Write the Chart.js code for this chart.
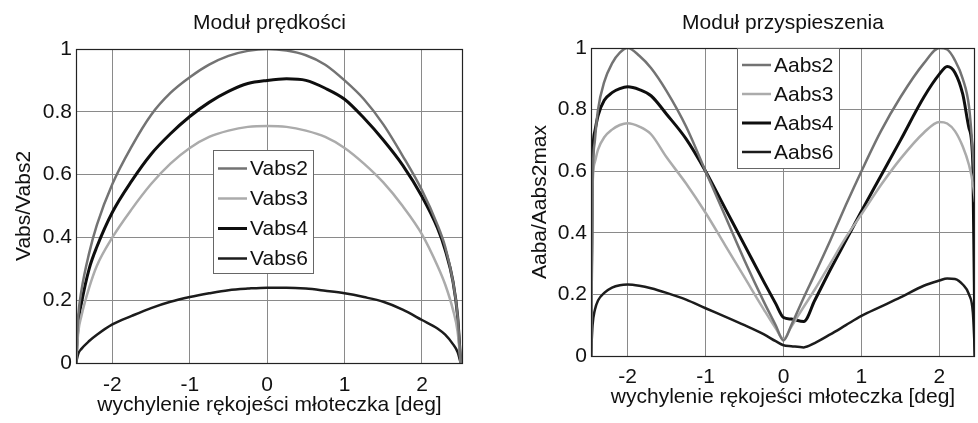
<!DOCTYPE html>
<html>
<head>
<meta charset="utf-8">
<script src="https://cdn.jsdelivr.net/npm/chart.js@4/dist/chart.umd.min.js"></script>
<style>
  html, body { margin: 0; padding: 0; background: #fff; }
  .box { position: absolute; top: 0; height: 423px; }
  #left { left: 0; width: 490px; }
  #right { left: 490px; width: 488px; }
</style>
</head>
<body>
<div class="box" id="left"><canvas id="velChart"></canvas></div>
<div class="box" id="right"><canvas id="accChart"></canvas></div>
<script>
// predkosc (lewy wykres)
const velX = [-2.47, -2.44, -2.4, -2.3, -2.2, -2.0, -1.75, -1.5, -1.25, -1.0, -0.75, -0.5, -0.25, 0,
  0.25, 0.5, 0.75, 1.0, 1.25, 1.5, 1.75, 2.0, 2.2, 2.3, 2.4, 2.46, 2.5];
const vabs2 = [0, 0.15, 0.23, 0.35, 0.44, 0.57, 0.69, 0.79, 0.86, 0.91, 0.95, 0.978, 0.994, 1.0,
  0.995, 0.98, 0.95, 0.9, 0.84, 0.76, 0.66, 0.55, 0.44, 0.37, 0.26, 0.15, 0];
const vabs3 = [0, 0.1, 0.15, 0.24, 0.31, 0.4, 0.49, 0.57, 0.635, 0.685, 0.72, 0.74, 0.752, 0.755,
  0.752, 0.74, 0.72, 0.685, 0.635, 0.575, 0.5, 0.41, 0.31, 0.25, 0.17, 0.1, 0];
const vabs4 = [0, 0.13, 0.19, 0.3, 0.37, 0.48, 0.58, 0.665, 0.73, 0.785, 0.83, 0.865, 0.89, 0.9,
  0.905, 0.9, 0.875, 0.84, 0.78, 0.71, 0.63, 0.53, 0.43, 0.36, 0.26, 0.15, 0];
const vabs6 = [0, 0.03, 0.045, 0.07, 0.09, 0.123, 0.15, 0.175, 0.195, 0.21, 0.222, 0.232, 0.237, 0.24,
  0.24, 0.237, 0.23, 0.222, 0.21, 0.195, 0.17, 0.137, 0.11, 0.09, 0.06, 0.035, 0];

// przyspieszenie (prawy wykres)
const accX = [-2.47, -2.45, -2.42, -2.38, -2.3, -2.2, -2.1, -2.0, -1.85, -1.7, -1.5, -1.25, -1.0,
  -0.75, -0.5, -0.25, -0.1, 0, 0.1, 0.26, 0.4, 0.6, 0.8, 1.0, 1.25, 1.5, 1.8, 2.0,
  2.1, 2.2, 2.3, 2.38, 2.43, 2.457];
const aabs2 = [0, 0.56, 0.7, 0.8, 0.89, 0.95, 0.985, 1.0, 0.975, 0.935, 0.86, 0.745, 0.6,
  0.455, 0.31, 0.175, 0.1, 0.05, 0.1, 0.19, 0.265, 0.375, 0.49, 0.6, 0.73, 0.84, 0.95, 1.0,
  0.995, 0.96, 0.9, 0.81, 0.66, 0.55];
const aabs3 = [0, 0.55, 0.63, 0.67, 0.71, 0.735, 0.75, 0.756, 0.745, 0.72, 0.645, 0.56, 0.465,
  0.36, 0.255, 0.15, 0.09, 0.055, 0.095, 0.16, 0.215, 0.3, 0.385, 0.46, 0.555, 0.64, 0.725, 0.76,
  0.755, 0.73, 0.68, 0.62, 0.56, 0.5];
const aabs4 = [0, 0.63, 0.73, 0.78, 0.83, 0.855, 0.868, 0.874, 0.865, 0.845, 0.785, 0.705, 0.6,
  0.48, 0.36, 0.24, 0.17, 0.125, 0.12, 0.112, 0.18, 0.28, 0.375, 0.47, 0.585, 0.7, 0.84, 0.915,
  0.94, 0.92, 0.85, 0.74, 0.62, 0];
const aabs6 = [0, 0.1, 0.15, 0.18, 0.205, 0.222, 0.23, 0.232, 0.228, 0.22, 0.205, 0.183, 0.155,
  0.128, 0.1, 0.07, 0.048, 0.035, 0.032, 0.028, 0.042, 0.07, 0.1, 0.13, 0.16, 0.19, 0.228, 0.245,
  0.252, 0.25, 0.232, 0.2, 0.14, 0];

const xTicks = [-2, -1, 0, 1, 2];

Chart.defaults.font.family = '"Liberation Sans", Arial, sans-serif';
Chart.defaults.font.size = 21;
Chart.defaults.color = '#111';

const pts = (xs, ys) => xs.map((x, i) => ({ x: x, y: ys[i] }));

function line(label, xs, ys, color, width) {
  return {
    label: label,
    data: pts(xs, ys),
    borderColor: color,
    borderWidth: width,
    pointRadius: 0,
    fill: false,
    cubicInterpolationMode: 'monotone'
  };
}

// ramka wykresu + legenda w srodku
const boxLegend = {
  id: 'boxLegend',
  afterDatasetsDraw(chart, args, o) {
    const ctx = chart.ctx, a = chart.chartArea;
    ctx.save();
    ctx.strokeStyle = '#222';
    ctx.lineWidth = 1.2;
    ctx.strokeRect(a.left + 0.5, a.top + 0.5, a.right - a.left - 1, a.bottom - a.top);

    ctx.fillStyle = '#fff';
    ctx.fillRect(o.x, o.y, o.w, o.h);
    ctx.strokeStyle = '#666';
    ctx.lineWidth = 1;
    ctx.strokeRect(o.x + 0.5, o.y + 0.5, o.w, o.h);
    ctx.font = '21px "Liberation Sans", Arial, sans-serif';
    ctx.textBaseline = 'middle';
    chart.data.datasets.forEach((ds, i) => {
      const yy = o.y + o.first + i * o.step;
      ctx.strokeStyle = ds.borderColor;
      ctx.lineWidth = ds.borderWidth;
      ctx.beginPath();
      ctx.moveTo(o.x + 5, yy);
      ctx.lineTo(o.x + 34, yy);
      ctx.stroke();
      ctx.fillStyle = '#111';
      ctx.fillText(ds.label, o.x + 37, yy + 1);
    });
    ctx.restore();
  }
};

function makeChart(el, cfg) {
  return new Chart(el, {
    type: 'line',
    data: { datasets: cfg.datasets },
    plugins: [boxLegend],
    options: {
      responsive: true,
      maintainAspectRatio: false,
      animation: false,
      layout: { padding: { left: 0, right: cfg.padRight, top: 0, bottom: 0 } },
      plugins: {
        legend: { display: false },
        tooltip: { enabled: false },
        title: {
          display: true,
          text: cfg.title,
          fullSize: false,
          color: '#111',
          font: { size: 21, weight: 'normal' },
          padding: { top: 11, bottom: cfg.titleBottom }
        },
        boxLegend: cfg.legend
      },
      scales: {
        x: {
          type: 'linear',
          min: cfg.xMin,
          max: cfg.xMax,
          afterBuildTicks: s => { s.ticks = xTicks.map(v => ({ value: v })); },
          afterFit: s => { s.height = cfg.xHeight; },
          ticks: { padding: cfg.xTickPad, color: '#111' },
          grid: { color: '#8a8a8a', lineWidth: 1, drawTicks: false },
          border: { display: false },
          title: {
            display: true,
            text: 'wychylenie rękojeści młoteczka [deg]',
            color: '#111',
            padding: { top: 0, bottom: cfg.xTitleBottom }
          }
        },
        y: {
          min: 0,
          max: 1,
          ticks: {
            stepSize: 0.2,
            padding: 4,
            color: '#111',
            callback: v => String(Math.round(v * 10) / 10)
          },
          afterFit: s => { s.width = cfg.yWidth; },
          grid: { color: '#8a8a8a', lineWidth: 1, drawTicks: false },
          border: { display: false },
          title: {
            display: true,
            text: cfg.yTitle,
            color: '#111',
            padding: { top: cfg.yTitleTop, bottom: 0 }
          }
        }
      }
    }
  });
}

makeChart(velChart, {
  title: 'Moduł prędkości',
  yTitle: 'Vabs/Vabs2',
  xMin: -2.47, xMax: 2.53,
  padRight: 27, titleBottom: 12.8,
  xHeight: 60, xTickPad: 10, xTitleBottom: 5,
  yWidth: 76, yTitleTop: 12,
  legend: { x: 213, y: 150, w: 100, h: 123, first: 18.5, step: 30 },
  datasets: [
    line('Vabs2', velX, vabs2, '#737373', 2.5),
    line('Vabs3', velX, vabs3, '#ababab', 2.5),
    line('Vabs4', velX, vabs4, '#0e0e0e', 3),
    line('Vabs6', velX, vabs6, '#1c1c1c', 2.5)
  ]
});

makeChart(accChart, {
  title: 'Moduł przyspieszenia',
  yTitle: 'Aaba/Aabs2max',
  xMin: -2.47, xMax: 2.457,
  padRight: 3, titleBottom: 11.8,
  xHeight: 67, xTickPad: 9, xTitleBottom: 13,
  yWidth: 101, yTitleTop: 38,
  legend: { x: 247, y: 48, w: 102, h: 120, first: 17, step: 29 },
  datasets: [
    line('Aabs2', accX, aabs2, '#737373', 2.5),
    line('Aabs3', accX, aabs3, '#ababab', 2.5),
    line('Aabs4', accX, aabs4, '#0e0e0e', 3),
    line('Aabs6', accX, aabs6, '#1c1c1c', 2.5)
  ]
});
</script>
</body>
</html>
